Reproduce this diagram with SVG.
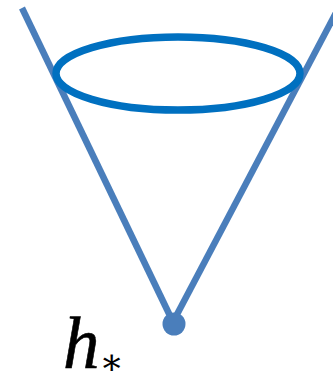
<svg xmlns="http://www.w3.org/2000/svg" width="333" height="383" viewBox="0 0 333 383">
<style>
.cone{stroke:#4A7EBB;stroke-width:6.5;fill:none}
.ring{stroke:#0070C0;stroke-width:7.5;fill:none}
.lbl{font-family:"Liberation Serif",serif;fill:#000}
</style>
<rect width="333" height="383" fill="#fff"/>
<g id="connectors">
<line class="cone" x1="22" y1="8" x2="173" y2="322"/>
<line class="cone" x1="339" y1="7" x2="173" y2="322"/>
</g>
<g id="ring"><ellipse class="ring" cx="178" cy="73.5" rx="122" ry="36.5"/></g>
<g id="apex"><circle cx="174" cy="324" r="11.5" fill="#4A7EBB"/></g>
<g id="label">
<text class="lbl" x="63" y="368" font-size="73"><tspan font-style="italic" stroke="#000" stroke-width="0.6">h</tspan><tspan dy="6" font-size="36" font-family="DejaVu Serif, serif">∗</tspan></text>
</g>
</svg>
